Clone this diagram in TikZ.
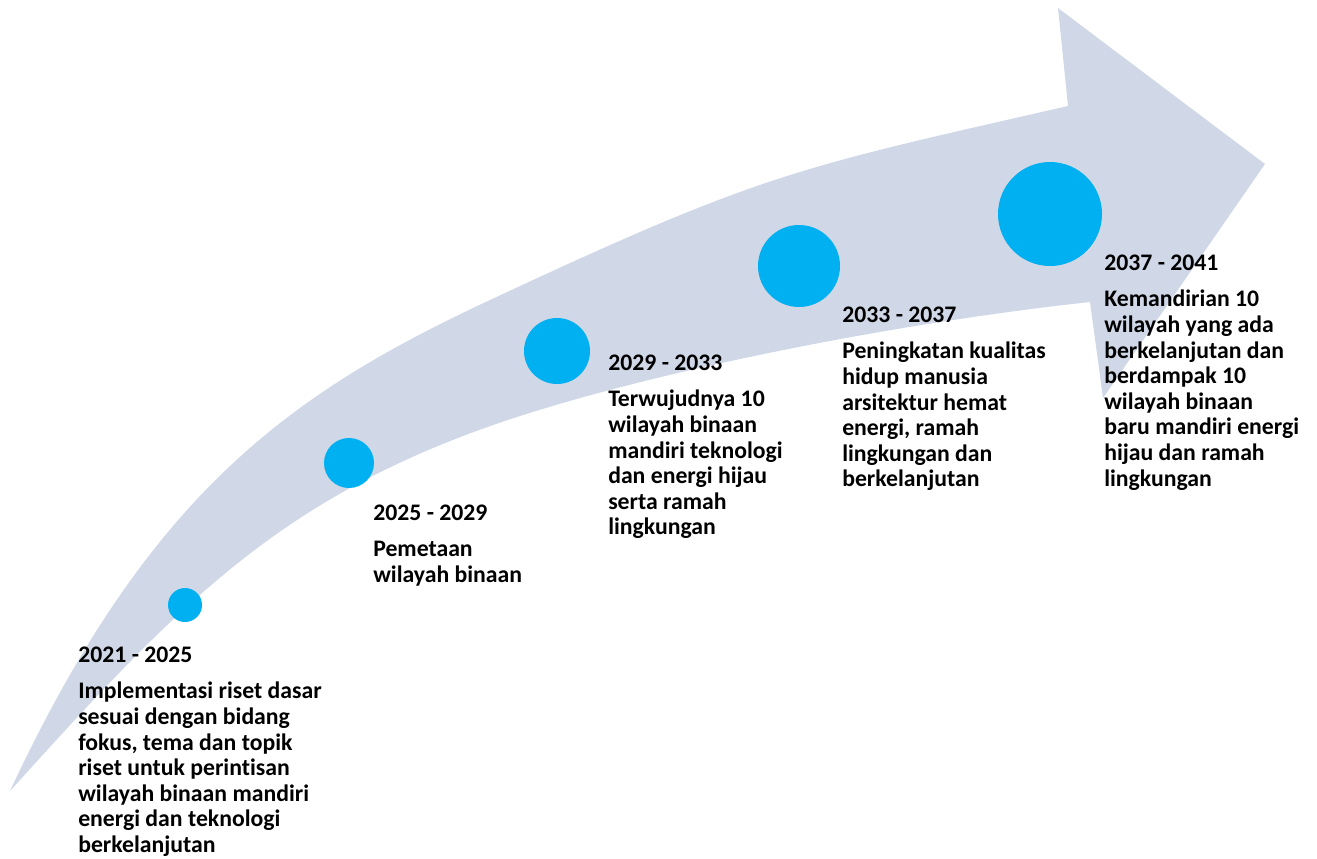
\documentclass[tikz,border=0pt]{standalone}
\usepackage{fontspec}
\setmainfont{Carlito}[Ligatures=NoCommon]
\usepackage{tikz}
\usetikzlibrary{positioning}
\definecolor{arrowgray}{RGB}{208,216,232}
\definecolor{dotblue}{RGB}{0,176,240}
\newcommand*{\tgap}{\\[8.5pt]}

\begin{document}
\begin{tikzpicture}[ % 整张图按像素坐标
        x=0.75pt, % 1px
        y=-0.75pt, % y 轴向下
        font=\fontsize{17.8pt}{19.2pt}\selectfont\bfseries % 正文字体
      ]
      \tikzstyle{dot}=[circle, fill=dotblue, inner sep=0pt] % 蓝色圆点
      \tikzstyle{stage}=[anchor=base west, inner sep=0pt] % 阶段说明
      \useasboundingbox (0,0) rectangle (1317,858);
      %% arrow
      \fill[arrowgray] (10,791)
        .. controls (149.6,492) and (290.7,393) .. (490,300) % 上边缘
        .. controls (761.8,173.1) and (795,168.2) .. (1068,106)
        -- (1058,8) -- (1265,164) -- (1103,398) -- (1090,302) % 箭头
        .. controls (891.2,323.6) and (659.7,370.6) .. (517,417) % 下边缘
        .. controls (279.3,494.3) and (177.5,606) .. (10,791)
        -- cycle;
      %% node
      \node[dot, minimum size=25.5pt] (c1) at (185,605) {};
      \node[dot, minimum size=37.5pt] (c2) at (349,463) {};
      \node[dot, minimum size=49.5pt] (c3) at (557,351) {};
      \node[dot, minimum size=61.5pt] (c4) at (799,266) {};
      \node[dot, minimum size=78pt] (c5) at (1050,214) {};
      %% text
      \node[stage] (t1) at (78,662) {
        \begin{tabular}[t]{@{}l@{}}
          2021 - 2025\tgap Implementasi riset dasar\\ sesuai dengan bidang\\ fokus, tema dan topik\\ riset untuk perintisan\\ wilayah binaan mandiri\\ energi dan teknologi\\ berkelanjutan
        \end{tabular}
      };
      \node[stage] (t2) at (373,520) {
        \begin{tabular}[t]{@{}l@{}}
          2025 - 2029\tgap Pemetaan\\ wilayah binaan
        \end{tabular}
      };
      \node[stage] (t3) at (608,370) {
        \begin{tabular}[t]{@{}l@{}}
          2029 - 2033\tgap Terwujudnya 10\\ wilayah binaan\\ mandiri teknologi\\ dan energi hijau\\ serta ramah\\ lingkungan
        \end{tabular}
      };
      \node[stage] (t4) at (842,322) {
        \begin{tabular}[t]{@{}l@{}}
          2033 - 2037\tgap Peningkatan kualitas\\ hidup manusia\\ arsitektur hemat\\ energi, ramah\\ lingkungan dan\\ berkelanjutan
        \end{tabular}
      };
      \node[stage] (t5) at (1104,270) {
        \begin{tabular}[t]{@{}l@{}}
          2037 - 2041\tgap Kemandirian 10\\ wilayah yang ada\\ berkelanjutan dan\\ berdampak 10\\ wilayah binaan\\ baru mandiri energi\\ hijau dan ramah\\ lingkungan
        \end{tabular}
      };
\end{tikzpicture}
\end{document}
